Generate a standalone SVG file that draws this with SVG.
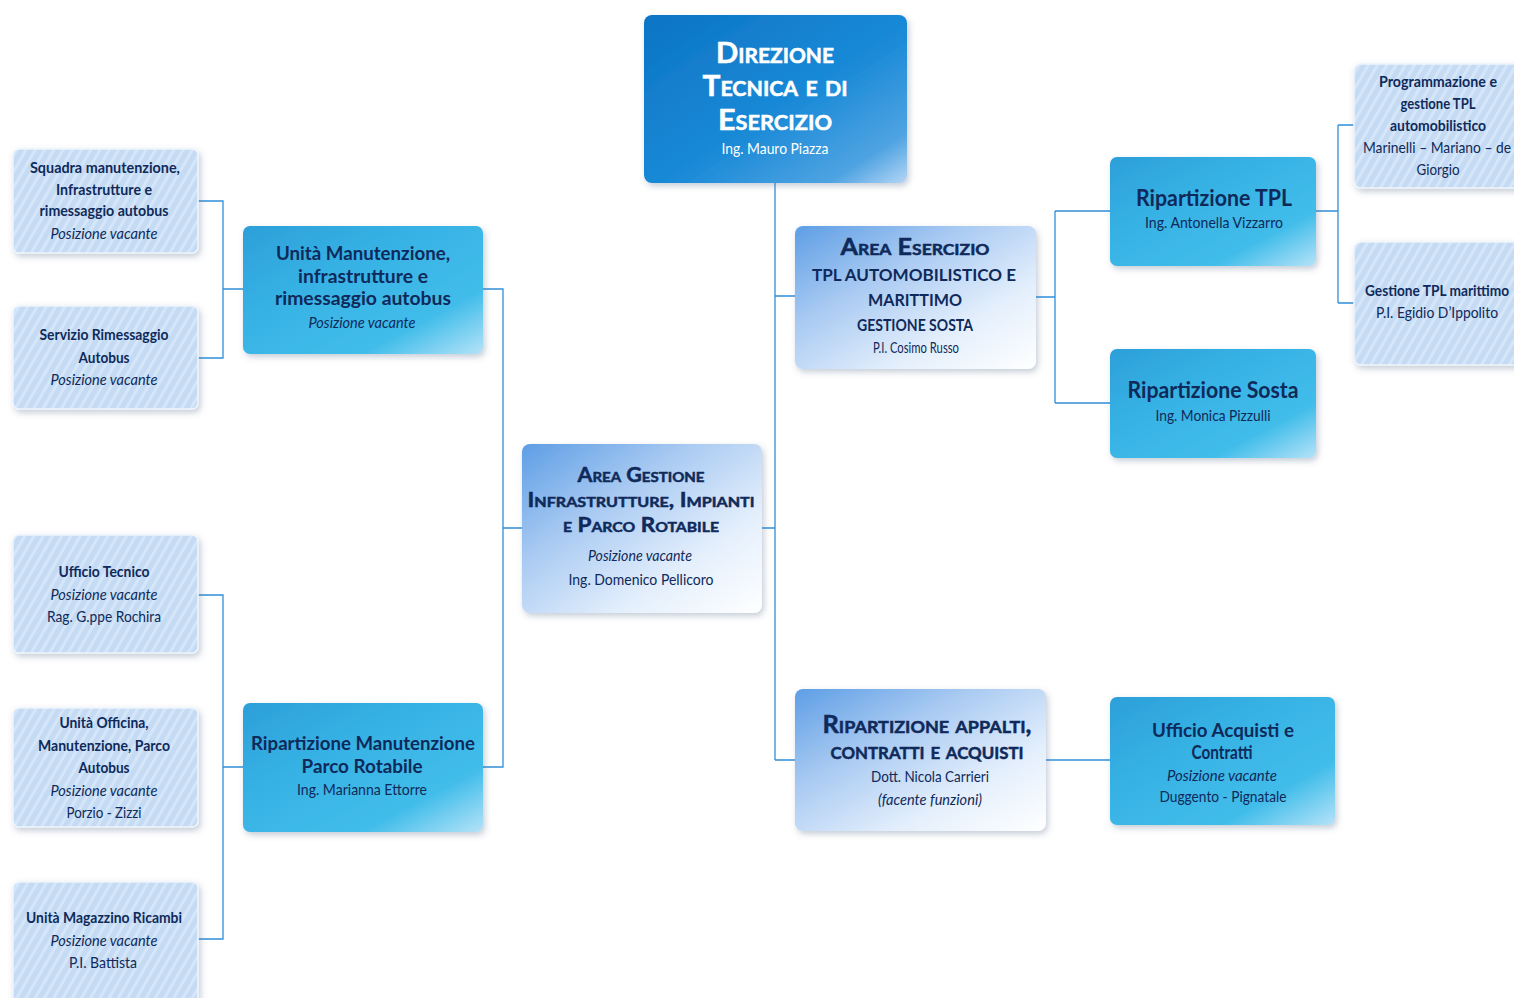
<svg xmlns="http://www.w3.org/2000/svg" width="1514" height="998" viewBox="0 0 1514 998">
  <defs>
    <style>
      .t{font-family:Lato,"Open Sans","Liberation Sans",sans-serif;fill:#0f2a5a;text-anchor:middle}
      .b{font-weight:700}
      .i{font-style:italic}
      .sc{font-variant:small-caps;stroke:#0f2a5a;stroke-width:0.5;paint-order:stroke}
      .w{fill:#ffffff}
      .sc.w{stroke:#ffffff}
      .conn{stroke:#2f8fd8;stroke-width:1.3;fill:none}
      .dark{fill:url(#gDark)}
      .mid{fill:url(#gMid)}
      .light{fill:url(#gLight)}
      .hatch{fill:url(#hatch);stroke:#eef5fd;stroke-width:1.5}
    </style>
    <linearGradient id="gDark" x1="0" y1="0" x2="1" y2="1">
      <stop offset="0" stop-color="#0c74c4"/>
      <stop offset="0.55" stop-color="#1a8ad7"/>
      <stop offset="0.85" stop-color="#4fa3e2"/>
      <stop offset="1" stop-color="#b4d6f5"/>
    </linearGradient>
    <linearGradient id="gMid" x1="0" y1="0" x2="1" y2="1">
      <stop offset="0" stop-color="#2c9fd9"/>
      <stop offset="0.35" stop-color="#36b1e4"/>
      <stop offset="0.75" stop-color="#42bdea"/>
      <stop offset="1" stop-color="#b5e3f8"/>
    </linearGradient>
    <linearGradient id="gLight" x1="0" y1="0" x2="1" y2="1">
      <stop offset="0" stop-color="#5d9ee5"/>
      <stop offset="0.35" stop-color="#a9caf2"/>
      <stop offset="0.7" stop-color="#e4effc"/>
      <stop offset="1" stop-color="#ffffff"/>
    </linearGradient>
    <pattern id="hatch" width="8" height="8" patternUnits="userSpaceOnUse" patternTransform="rotate(30)">
      <rect width="8" height="8" fill="#c5dbf4"/>
      <rect width="3" height="8" fill="#d6e6f9"/>
    </pattern>
    <filter id="sh" x="-10%" y="-10%" width="125%" height="130%">
      <feDropShadow dx="2" dy="3" stdDeviation="3" flood-color="#5a6f8a" flood-opacity="0.35"/>
    </filter>
  </defs>

  <rect width="1514" height="998" fill="#ffffff"/>

  <!-- connectors -->
  <g id="connectors" class="conn">
    <path d="M775,183 V760 M775,296 H795 M762,528 H775 M775,760 H795"/>
    <path d="M1036,297 H1055 M1055,211 V403 M1055,211 H1110 M1055,403 H1110"/>
    <path d="M1316,211 H1338 M1338,125 V303 M1338,125 H1354 M1338,303 H1354"/>
    <path d="M1046,760 H1110"/>
    <path d="M483,289 H503 V767 H483 M503,528 H522"/>
    <path d="M243,289 H223 M198,201 H223 V358 H198"/>
    <path d="M243,767 H223 M198,595 H223 V939 H198"/>
  </g>

  <!-- top management -->
  <g id="direzione">
    <rect x="644" y="15" width="263" height="168" rx="8" class="dark" filter="url(#sh)"/>
    <text class="t b sc w" x="775" y="63" font-size="28" textLength="118" lengthAdjust="spacingAndGlyphs">Direzione</text>
    <text class="t b sc w" x="775" y="96" font-size="28" textLength="145" lengthAdjust="spacingAndGlyphs">Tecnica e di</text>
    <text class="t b sc w" x="775" y="130" font-size="28" textLength="114" lengthAdjust="spacingAndGlyphs">Esercizio</text>
    <text class="t w" x="775" y="154" font-size="16" textLength="107" lengthAdjust="spacingAndGlyphs">Ing. Mauro Piazza</text>
  </g>

  <g id="area-esercizio">
    <rect x="795" y="226" width="241" height="143" rx="8" class="light" filter="url(#sh)"/>
    <text class="t b sc" x="915" y="255" font-size="23" textLength="149" lengthAdjust="spacingAndGlyphs">Area Esercizio</text>
    <text class="t b" x="914" y="281" font-size="17" textLength="204" lengthAdjust="spacingAndGlyphs">TPL AUTOMOBILISTICO E</text>
    <text class="t b" x="915" y="306" font-size="17" textLength="94" lengthAdjust="spacingAndGlyphs">MARITTIMO</text>
    <text class="t b" x="915" y="331" font-size="17" textLength="116" lengthAdjust="spacingAndGlyphs">GESTIONE SOSTA</text>
    <text class="t" x="916" y="353" font-size="16" textLength="86" lengthAdjust="spacingAndGlyphs">P.I. Cosimo Russo</text>
  </g>

  <g id="ripartizione-tpl">
    <rect x="1110" y="157" width="206" height="109" rx="7" class="mid" filter="url(#sh)"/>
    <text class="t b" x="1214" y="206" font-size="22" textLength="156" lengthAdjust="spacingAndGlyphs">Ripartizione TPL</text>
    <text class="t" x="1214" y="228" font-size="16" textLength="138" lengthAdjust="spacingAndGlyphs">Ing. Antonella Vizzarro</text>
  </g>

  <g id="ripartizione-sosta">
    <rect x="1110" y="349" width="206" height="109" rx="7" class="mid" filter="url(#sh)"/>
    <text class="t b" x="1213" y="398" font-size="22" textLength="171" lengthAdjust="spacingAndGlyphs">Ripartizione Sosta</text>
    <text class="t" x="1213" y="421" font-size="16" textLength="115" lengthAdjust="spacingAndGlyphs">Ing. Monica Pizzulli</text>
  </g>

  <g id="programmazione-tpl">
    <rect x="1354" y="64" width="170" height="124" rx="7" class="hatch" filter="url(#sh)"/>
    <text class="t b" x="1438" y="87" font-size="15" textLength="118" lengthAdjust="spacingAndGlyphs">Programmazione e</text>
    <text class="t b" x="1438" y="109" font-size="15" textLength="75" lengthAdjust="spacingAndGlyphs">gestione TPL</text>
    <text class="t b" x="1438" y="131" font-size="15" textLength="96" lengthAdjust="spacingAndGlyphs">automobilistico</text>
    <text class="t" x="1437" y="153" font-size="15" textLength="148" lengthAdjust="spacingAndGlyphs">Marinelli – Mariano – de</text>
    <text class="t" x="1438" y="175" font-size="15" textLength="43" lengthAdjust="spacingAndGlyphs">Giorgio</text>
  </g>

  <g id="gestione-marittimo">
    <rect x="1354" y="242" width="170" height="123" rx="7" class="hatch" filter="url(#sh)"/>
    <text class="t b" x="1437" y="296" font-size="15" textLength="144" lengthAdjust="spacingAndGlyphs">Gestione TPL marittimo</text>
    <text class="t" x="1437" y="318" font-size="15" textLength="122" lengthAdjust="spacingAndGlyphs">P.I. Egidio D’Ippolito</text>
  </g>

  <g id="area-gestione">
    <rect x="522" y="444" width="240" height="169" rx="8" class="light" filter="url(#sh)"/>
    <text class="t b sc" x="641" y="482" font-size="20" textLength="127" lengthAdjust="spacingAndGlyphs">Area Gestione</text>
    <text class="t b sc" x="641" y="507" font-size="20" textLength="227" lengthAdjust="spacingAndGlyphs">Infrastrutture, Impianti</text>
    <text class="t b sc" x="641" y="532" font-size="20" textLength="156" lengthAdjust="spacingAndGlyphs">e Parco Rotabile</text>
    <text class="t i" x="640" y="561" font-size="16" textLength="104" lengthAdjust="spacingAndGlyphs">Posizione vacante</text>
    <text class="t" x="641" y="585" font-size="16" textLength="145" lengthAdjust="spacingAndGlyphs">Ing. Domenico Pellicoro</text>
  </g>

  <g id="unita-manutenzione">
    <rect x="243" y="226" width="240" height="128" rx="7" class="mid" filter="url(#sh)"/>
    <text class="t b" x="363" y="260" font-size="18" textLength="174" lengthAdjust="spacingAndGlyphs">Unità Manutenzione,</text>
    <text class="t b" x="363" y="283" font-size="18" textLength="130" lengthAdjust="spacingAndGlyphs">infrastrutture e</text>
    <text class="t b" x="363" y="305" font-size="18" textLength="176" lengthAdjust="spacingAndGlyphs">rimessaggio autobus</text>
    <text class="t i" x="362" y="328" font-size="15" textLength="107" lengthAdjust="spacingAndGlyphs">Posizione vacante</text>
  </g>

  <g id="ripartizione-manutenzione">
    <rect x="243" y="703" width="240" height="129" rx="7" class="mid" filter="url(#sh)"/>
    <text class="t b" x="363" y="750" font-size="18" textLength="224" lengthAdjust="spacingAndGlyphs">Ripartizione Manutenzione</text>
    <text class="t b" x="362" y="773" font-size="18" textLength="121" lengthAdjust="spacingAndGlyphs">Parco Rotabile</text>
    <text class="t" x="362" y="795" font-size="16" textLength="130" lengthAdjust="spacingAndGlyphs">Ing. Marianna Ettorre</text>
  </g>

  <g id="squadra-manutenzione">
    <rect x="13" y="149" width="185" height="104" rx="6" class="hatch" filter="url(#sh)"/>
    <text class="t b" x="105" y="173" font-size="15" textLength="150" lengthAdjust="spacingAndGlyphs">Squadra manutenzione,</text>
    <text class="t b" x="104" y="195" font-size="15" textLength="96" lengthAdjust="spacingAndGlyphs">Infrastrutture e</text>
    <text class="t b" x="104" y="216" font-size="15" textLength="129" lengthAdjust="spacingAndGlyphs">rimessaggio autobus</text>
    <text class="t i" x="104" y="239" font-size="15" textLength="107" lengthAdjust="spacingAndGlyphs">Posizione vacante</text>
  </g>

  <g id="servizio-rimessaggio">
    <rect x="13" y="306" width="185" height="103" rx="6" class="hatch" filter="url(#sh)"/>
    <text class="t b" x="104" y="340" font-size="15" textLength="129" lengthAdjust="spacingAndGlyphs">Servizio Rimessaggio</text>
    <text class="t b" x="104" y="363" font-size="15" textLength="51" lengthAdjust="spacingAndGlyphs">Autobus</text>
    <text class="t i" x="104" y="385" font-size="15" textLength="107" lengthAdjust="spacingAndGlyphs">Posizione vacante</text>
  </g>

  <g id="ufficio-tecnico">
    <rect x="13" y="535" width="185" height="118" rx="6" class="hatch" filter="url(#sh)"/>
    <text class="t b" x="104" y="577" font-size="15" textLength="91" lengthAdjust="spacingAndGlyphs">Ufficio Tecnico</text>
    <text class="t i" x="104" y="600" font-size="15" textLength="107" lengthAdjust="spacingAndGlyphs">Posizione vacante</text>
    <text class="t" x="104" y="622" font-size="15" textLength="114" lengthAdjust="spacingAndGlyphs">Rag. G.ppe Rochira</text>
  </g>

  <g id="unita-officina">
    <rect x="13" y="708" width="185" height="119" rx="6" class="hatch" filter="url(#sh)"/>
    <text class="t b" x="104" y="728" font-size="15" textLength="89" lengthAdjust="spacingAndGlyphs">Unità Officina,</text>
    <text class="t b" x="104" y="751" font-size="15" textLength="132" lengthAdjust="spacingAndGlyphs">Manutenzione, Parco</text>
    <text class="t b" x="104" y="773" font-size="15" textLength="51" lengthAdjust="spacingAndGlyphs">Autobus</text>
    <text class="t i" x="104" y="796" font-size="15" textLength="107" lengthAdjust="spacingAndGlyphs">Posizione vacante</text>
    <text class="t" x="104" y="818" font-size="15" textLength="75" lengthAdjust="spacingAndGlyphs">Porzio - Zizzi</text>
  </g>

  <g id="unita-magazzino">
    <rect x="13" y="882" width="185" height="130" rx="6" class="hatch" filter="url(#sh)"/>
    <text class="t b" x="104" y="923" font-size="15" textLength="156" lengthAdjust="spacingAndGlyphs">Unità Magazzino Ricambi</text>
    <text class="t i" x="104" y="946" font-size="15" textLength="107" lengthAdjust="spacingAndGlyphs">Posizione vacante</text>
    <text class="t" x="103" y="968" font-size="15" textLength="68" lengthAdjust="spacingAndGlyphs">P.I. Battista</text>
  </g>

  <g id="ripartizione-appalti">
    <rect x="795" y="689" width="251" height="142" rx="8" class="light" filter="url(#sh)"/>
    <text class="t b sc" x="927" y="733" font-size="24" textLength="209" lengthAdjust="spacingAndGlyphs">Ripartizione appalti,</text>
    <text class="t b sc" x="927" y="759" font-size="24" textLength="193" lengthAdjust="spacingAndGlyphs">contratti e acquisti</text>
    <text class="t" x="930" y="782" font-size="16" textLength="118" lengthAdjust="spacingAndGlyphs">Dott. Nicola Carrieri</text>
    <text class="t i" x="930" y="805" font-size="16" textLength="104" lengthAdjust="spacingAndGlyphs">(facente funzioni)</text>
  </g>

  <g id="ufficio-acquisti">
    <rect x="1110" y="697" width="225" height="128" rx="7" class="mid" filter="url(#sh)"/>
    <text class="t b" x="1223" y="737" font-size="19" textLength="142" lengthAdjust="spacingAndGlyphs">Ufficio Acquisti e</text>
    <text class="t b" x="1222" y="759" font-size="19" textLength="61" lengthAdjust="spacingAndGlyphs">Contratti</text>
    <text class="t i" x="1222" y="781" font-size="16" textLength="110" lengthAdjust="spacingAndGlyphs">Posizione vacante</text>
    <text class="t" x="1223" y="802" font-size="16" textLength="127" lengthAdjust="spacingAndGlyphs">Duggento - Pignatale</text>
  </g>
</svg>
